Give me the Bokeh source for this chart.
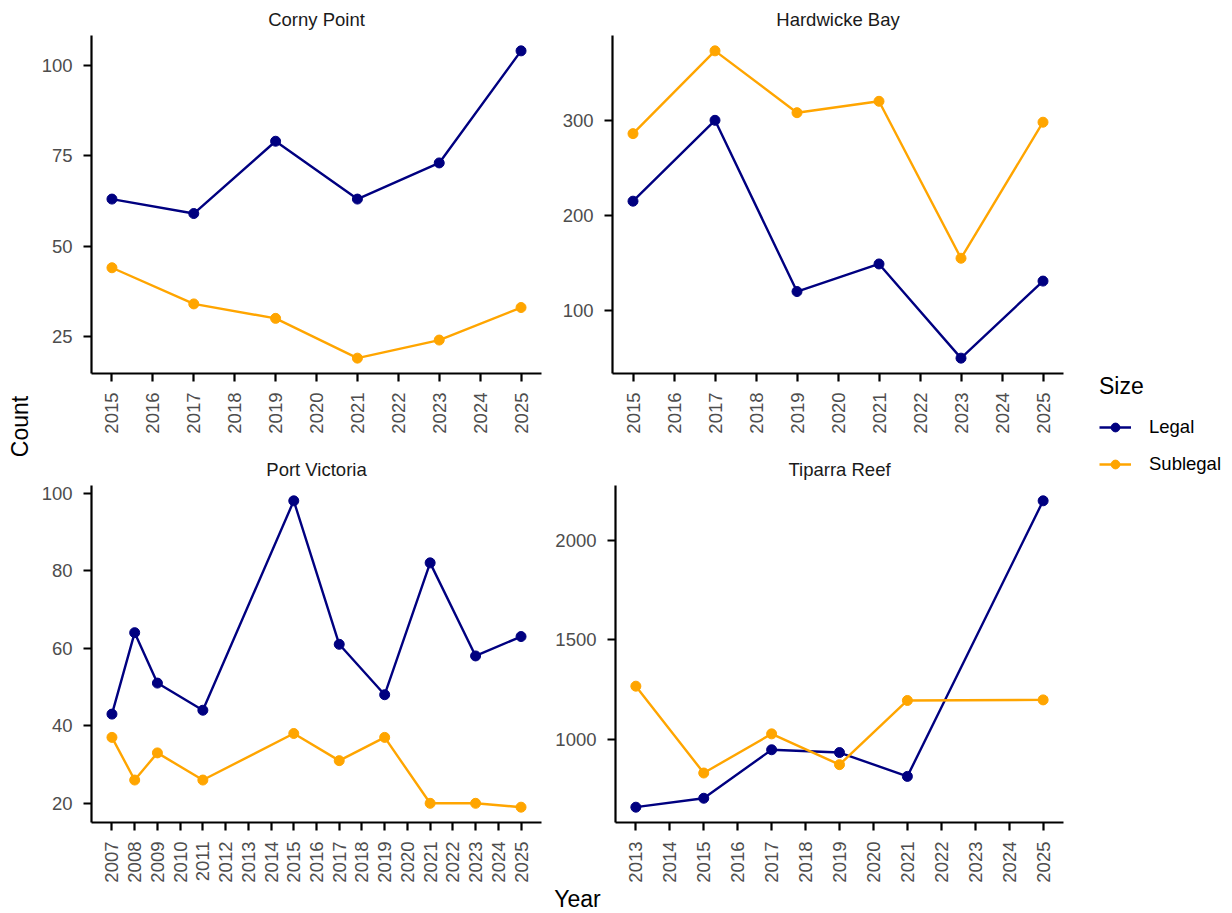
import math
from bokeh.plotting import figure
from bokeh.models import Range1d, FixedTicker, Legend, LegendItem
from bokeh.layouts import row, column
from bokeh.embed import file_html
from bokeh.resources import INLINE
from bokeh.core.properties import value

# ---------------- data ----------------
corny_years = [2015, 2017, 2019, 2021, 2023, 2025]
corny_legal = [63, 59, 79, 63, 73, 104]
corny_sublegal = [44, 34, 30, 19, 24, 33]
corny_xticks = [2015, 2016, 2017, 2018, 2019, 2020, 2021, 2022, 2023, 2024, 2025]
corny_yticks = [25, 50, 75, 100]

hardwicke_years = [2015, 2017, 2019, 2021, 2023, 2025]
hardwicke_legal = [215, 300, 120, 149, 50, 131]
hardwicke_sublegal = [286, 373, 308, 320, 155, 298]
hardwicke_xticks = [2015, 2016, 2017, 2018, 2019, 2020, 2021, 2022, 2023, 2024, 2025]
hardwicke_yticks = [100, 200, 300]

portvic_years = [2007, 2008, 2009, 2011, 2015, 2017, 2019, 2021, 2023, 2025]
portvic_legal = [43, 64, 51, 44, 98, 61, 48, 82, 58, 63]
portvic_sublegal = [37, 26, 33, 26, 38, 31, 37, 20, 20, 19]
portvic_xticks = [2007, 2008, 2009, 2010, 2011, 2012, 2013, 2014, 2015, 2016,
                  2017, 2018, 2019, 2020, 2021, 2022, 2023, 2024, 2025]
portvic_yticks = [20, 40, 60, 80, 100]

tiparra_years = [2013, 2015, 2017, 2019, 2021, 2025]
tiparra_legal = [658, 703, 947, 933, 813, 2200]
tiparra_sublegal = [1267, 830, 1027, 872, 1195, 1198]
tiparra_xticks = [2013, 2014, 2015, 2016, 2017, 2018, 2019, 2020, 2021, 2022, 2023, 2024, 2025]
tiparra_yticks = [1000, 1500, 2000]

series_names = ["Legal", "Sublegal"]
series_colors = ["navy", "#FFA500"]

# ---------------- style ----------------
FONT = "Liberation Sans"
TICK_SIZE = "18.5px"
STRIP_SIZE = "18.5px"
AXTITLE_SIZE = "23px"
LINE_W = 2.4
PT_SIZE = 10


def expand(vals, frac=0.05):
    lo, hi = min(vals), max(vals)
    pad = (hi - lo) * frac
    return lo - pad, hi + pad


def panel(title, years, legal, sublegal, xticks, yticks, width, height, bl, br, bt, bb):
    x0, x1 = expand(years)
    y0, y1 = expand(legal + sublegal)
    p = figure(width=width, height=height, x_range=Range1d(x0, x1), y_range=Range1d(y0, y1),
               output_backend="svg", toolbar_location=None,
               min_border_left=bl, min_border_right=br, min_border_top=bt, min_border_bottom=bb,
               title=title)
    p.title.align = "center"
    p.title.vertical_align = "middle"
    p.title.text_font = FONT
    p.title.text_font_size = STRIP_SIZE
    p.title.text_font_style = "normal"
    p.title.text_color = "#1A1A1A"
    p.title.standoff = 10
    p.outline_line_color = None
    p.xgrid.visible = False
    p.ygrid.visible = False
    p.background_fill_color = "white"
    p.border_fill_color = "white"
    for (vals, col) in zip([legal, sublegal], series_colors):
        p.line(years, vals, line_color=col, line_width=LINE_W)
        p.scatter(years, vals, size=PT_SIZE, fill_color=col, line_color=col)
    p.xaxis.ticker = FixedTicker(ticks=xticks)
    p.yaxis.ticker = FixedTicker(ticks=yticks)
    p.xaxis.major_label_orientation = math.pi / 2
    for ax in (p.xaxis[0], p.yaxis[0]):
        ax.axis_line_color = "black"
        ax.axis_line_width = 2.2
        ax.major_tick_line_color = "black"
        ax.major_tick_line_width = 2.2
        ax.major_tick_out = 8
        ax.major_tick_in = 0
        ax.minor_tick_line_color = None
        ax.major_label_text_font = FONT
        ax.major_label_text_font_size = TICK_SIZE
        ax.major_label_text_color = "#4D4D4D"
        ax.major_label_standoff = 11
    return p


STRIP_W = 38
LEFT_W, RIGHT_W = 514, 528
LEG_W = 152
ROW1_H, ROW2_H = 450, 435
TOTAL_H = 913

p_tl = panel("Corny Point", corny_years, corny_legal, corny_sublegal, corny_xticks, corny_yticks,
             LEFT_W, ROW1_H, 52, 11, 35, 77)
p_tr = panel("Hardwicke Bay", hardwicke_years, hardwicke_legal, hardwicke_sublegal, hardwicke_xticks,
             hardwicke_yticks, RIGHT_W, ROW1_H, 60, 17, 35, 77)
p_bl = panel("Port Victoria", portvic_years, portvic_legal, portvic_sublegal, portvic_xticks, portvic_yticks,
             LEFT_W, ROW2_H, 52, 11, 35, 62)
p_br = panel("Tiparra Reef", tiparra_years, tiparra_legal, tiparra_sublegal, tiparra_xticks, tiparra_yticks,
             RIGHT_W, ROW2_H, 60, 17, 35, 62)


def blank(width, height):
    f = figure(width=width, height=height, x_range=Range1d(0, width), y_range=Range1d(0, height),
               output_backend="svg", toolbar_location=None, x_axis_type=None, y_axis_type=None,
               min_border=0)
    f.outline_line_color = None
    f.xgrid.visible = False
    f.ygrid.visible = False
    return f


# y-axis title strip
p_count = blank(STRIP_W, TOTAL_H)
p_count.text(x=[19], y=[TOTAL_H - 426], text=["Count"], angle=math.pi / 2,
             text_align="center", text_baseline="middle",
             text_font=value(FONT), text_font_size=AXTITLE_SIZE, text_color="black")

# x-axis title strip
YEAR_H = TOTAL_H - ROW1_H - ROW2_H
p_year = blank(LEFT_W + RIGHT_W, YEAR_H)
p_year.text(x=[577 - STRIP_W], y=[YEAR_H - 13], text=["Year"], text_align="center", text_baseline="middle",
            text_font=value(FONT), text_font_size=AXTITLE_SIZE, text_color="black")

# legend
p_leg = blank(LEG_W, TOTAL_H)
items = []
for name, col in zip(series_names, series_colors):
    lr = p_leg.line(x=[float("nan")], y=[float("nan")], line_color=col, line_width=LINE_W)
    sr = p_leg.scatter(x=[float("nan")], y=[float("nan")], size=PT_SIZE, fill_color=col, line_color=col)
    items.append(LegendItem(label=name, renderers=[lr, sr]))
legend = Legend(items=items, location=(19, 438), title="Size",
                title_text_font=FONT, title_text_font_size=AXTITLE_SIZE, title_text_color="black",
                title_text_font_style="normal", title_standoff=16,
                label_text_font=FONT, label_text_font_size=TICK_SIZE, label_text_color="black",
                glyph_width=32, glyph_height=22, label_height=22, label_standoff=18, spacing=15,
                padding=0, margin=0, border_line_color=None, background_fill_alpha=0)
p_leg.add_layout(legend)

layout = row(p_count,
             column(row(p_tl, p_tr), row(p_bl, p_br), p_year),
             p_leg)

open("out.html", "w").write(file_html(layout, INLINE))
